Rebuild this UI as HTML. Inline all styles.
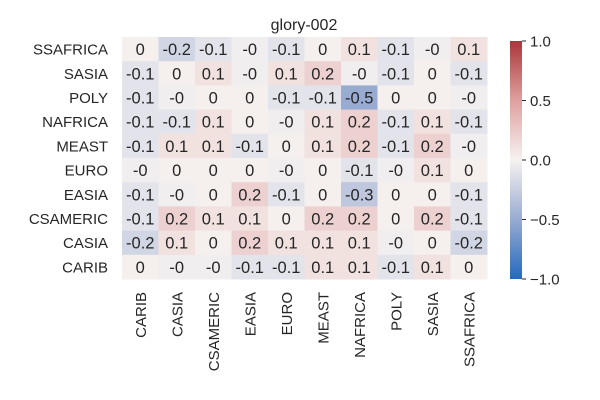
<!DOCTYPE html>
<html><head><meta charset="utf-8"><style>
body{margin:0;background:#fff;}
svg{display:block;font-family:"Liberation Sans",Arial,sans-serif;}
</style></head><body>
<svg id="chart" width="600" height="400"></svg>
<script>
const rowLabels=["SSAFRICA","SASIA","POLY","NAFRICA","MEAST","EURO","EASIA","CSAMERIC","CASIA","CARIB"];
const colLabels=["CARIB","CASIA","CSAMERIC","EASIA","EURO","MEAST","NAFRICA","POLY","SASIA","SSAFRICA"];
const row0=[0.02,-0.2,-0.1,-0.03,-0.1,0.02,0.1,-0.1,-0.03,0.1];
const row1=[-0.1,0.02,0.1,-0.03,0.1,0.2,-0.03,-0.1,0.02,-0.1];
const row2=[-0.1,-0.03,0.02,0.02,-0.1,-0.1,-0.5,0.02,0.02,-0.03];
const row3=[-0.1,-0.1,0.1,0.02,-0.03,0.1,0.2,-0.1,0.1,-0.1];
const row4=[-0.1,0.1,0.1,-0.1,0.02,0.1,0.2,-0.1,0.2,-0.03];
const row5=[-0.03,0.02,0.02,0.02,-0.03,0.02,-0.1,-0.03,0.1,0.02];
const row6=[-0.1,-0.03,0.02,0.2,-0.1,0.02,-0.3,0.02,0.02,-0.1];
const row7=[-0.1,0.2,0.1,0.1,0.02,0.2,0.2,0.02,0.2,-0.1];
const row8=[-0.2,0.1,0.02,0.2,0.1,0.1,0.1,-0.03,0.02,-0.2];
const row9=[0.02,-0.03,-0.03,-0.1,-0.1,0.1,0.1,-0.1,0.1,0.02];
const values=[row0,row1,row2,row3,row4,row5,row6,row7,row8,row9];
const cbTicks=[1.0,0.5,0.0,-0.5,-1.0];
const cbTickLabels=["1.0","0.5","0.0","\u22120.5","\u22121.0"];

const NS="http://www.w3.org/2000/svg";
const svg=document.getElementById('chart');
const X0=122,X1=487,Y0=37,Y1=279;
const cw=(X1-X0)/colLabels.length, rh=(Y1-Y0)/rowLabels.length;
const xPos=i=>X0+i*cw, yPos=j=>Y0+j*rh;
const CB_X=510,CB_W=12,CB_T=41,CB_B=279;
const cbY=v=>CB_T+(1-v)/2*(CB_B-CB_T);
const stops=[[-1,[35,105,189]],[-0.5,[152,171,209]],[0,[246,242,241]],[0.5,[222,160,158]],[1,[169,55,59]]];
function color(v){v=Math.max(-1,Math.min(1,v));
 for(let i=0;i<stops.length-1;i++){const[a,ca]=stops[i],[b,cb]=stops[i+1];
  if(v<=b){const t=(v-a)/(b-a);return `rgb(${ca.map((c,k)=>Math.round(c+(cb[k]-c)*t)).join(',')})`;}}
 return 'rgb(169,55,59)';}
function fmt(v){const r=Math.round(v*10)/10;if(r===0)return v<0?"-0":"0";return String(r);}
function el(tag,attrs,txt){const e=document.createElementNS(NS,tag);for(const k in attrs)e.setAttribute(k,attrs[k]);if(txt!==undefined)e.textContent=txt;svg.appendChild(e);return e;}

const title=el('text',{x:304,y:30,'text-anchor':'middle','font-size':16,fill:'#262626'},'glory-002');



values.forEach((row,j)=>row.forEach((v,i)=>{
 const r=el('rect',{x:xPos(i),y:yPos(j),width:cw+0.5,height:rh+0.5,fill:color(v)});
 
 
 const t=el('text',{x:xPos(i)+cw/2,y:yPos(j)+rh/2+6,'text-anchor':'middle','font-size':16.5,fill:'#262626'},fmt(v));
 
 
}));
rowLabels.forEach((l,j)=>{
 const t=el('text',{x:108,y:yPos(j)+rh/2+5.5,'text-anchor':'end','font-size':15,fill:'#262626'},l);
 
 
});
colLabels.forEach((l,i)=>{
 const cx=xPos(i)+cw/2+5.5,cy=292;
 const t=el('text',{x:cx,y:cy,'text-anchor':'end','font-size':15,fill:'#262626',transform:`rotate(-90 ${cx} ${cy})`},l);
 
 
});
const defs=el('defs',{});
const g=document.createElementNS(NS,'linearGradient');g.setAttribute('id','cbg');g.setAttribute('x1',0);g.setAttribute('y1',1);g.setAttribute('x2',0);g.setAttribute('y2',0);
stops.forEach(s=>{const st=document.createElementNS(NS,'stop');st.setAttribute('offset',(s[0]+1)/2);st.setAttribute('stop-color',color(s[0]));g.appendChild(st);});
defs.appendChild(g);
const cb=el('rect',{x:CB_X,y:CB_T,width:CB_W,height:CB_B-CB_T,fill:'url(#cbg)'});


cbTicks.forEach((v,k)=>{
 const ln=el('line',{x1:CB_X+CB_W,x2:CB_X+CB_W+4,y1:cbY(v),y2:cbY(v),stroke:'#262626','stroke-width':1});
 
 
 const t=el('text',{x:CB_X+CB_W+8,y:cbY(v)+5.5,'font-size':15,fill:'#262626'},cbTickLabels[k]);
 
 
});
</script>
</body></html>
